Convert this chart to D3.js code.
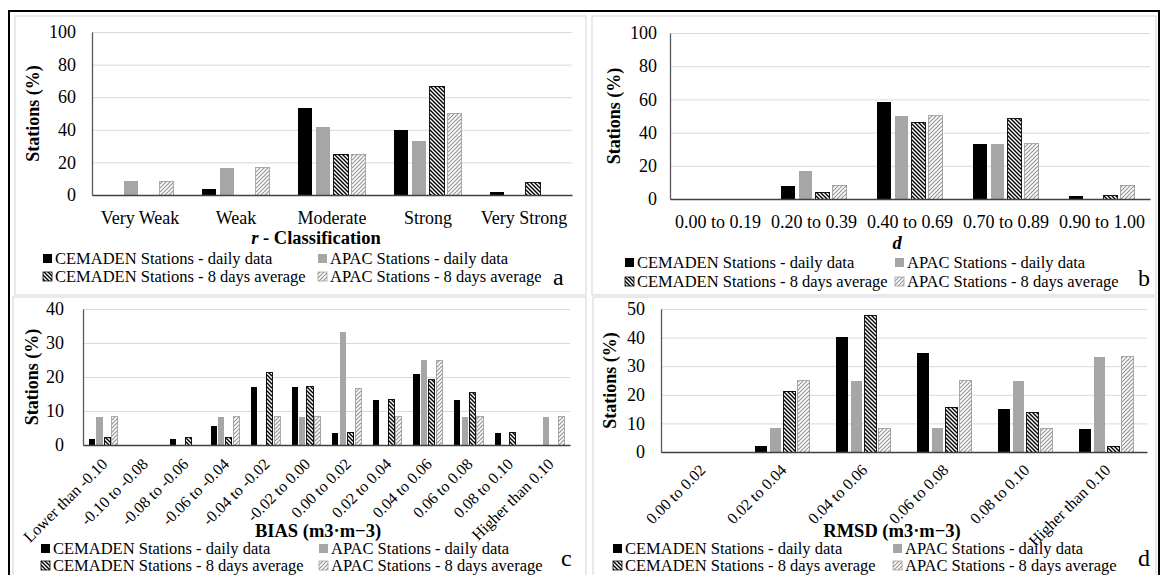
<!DOCTYPE html>
<html><head><meta charset="utf-8">
<script src="https://cdn.jsdelivr.net/npm/d3@7"></script>
<style>
html,body{margin:0;padding:0;background:#fff;}
svg text{font-family:"Liberation Serif","Times New Roman","DejaVu Serif",serif;fill:#000;}
</style></head>
<body><svg id="chart" width="1163" height="575"></svg>
<script>
// ---------- DATA ----------
const seriesNames = ["CEMADEN Stations - daily data","APAC Stations - daily data","CEMADEN Stations - 8 days average","APAC Stations - 8 days average"];

const rCats = ["Very Weak","Weak","Moderate","Strong","Very Strong"];
const rCemDaily = [0, 3.4, 53.4, 39.7, 1.7];
const rApacDaily = [8.3, 16.7, 41.7, 33.3, 0];
const rCem8d = [0, 0, 25, 66.7, 7.5];
const rApac8d = [8.3, 16.7, 25, 50, 0];
const rTicks = [0, 20, 40, 60, 80, 100];

const dCats = ["0.00 to 0.19","0.20 to 0.39","0.40 to 0.69","0.70 to 0.89","0.90 to 1.00"];
const dCemDaily = [0, 7.8, 58.2, 33.4, 1.8];
const dApacDaily = [0, 16.7, 50, 33.3, 0];
const dCem8d = [0, 4.2, 46.3, 48.3, 2.1];
const dApac8d = [0, 8.3, 50.4, 33.3, 8.3];
const dTicks = [0, 20, 40, 60, 80, 100];

const biasCats = ["Lower than -0.10","-0.10 to -0.08","-0.08 to -0.06","-0.06 to -0.04","-0.04 to -0.02","-0.02 to 0.00","0.00 to 0.02","0.02 to 0.04","0.04 to 0.06","0.06 to 0.08","0.08 to 0.10","Higher than 0.10"];
const biasCemDaily = [1.7, 0, 1.7, 5.5, 17.2, 17.2, 3.6, 13.3, 21.0, 13.3, 3.6, 0];
const biasApacDaily = [8.3, 0, 0, 8.3, 0, 8.3, 33.3, 0, 25, 8.3, 0, 8.3];
const biasCem8d = [2.1, 0, 2.1, 2.1, 21.3, 17.2, 3.8, 13.5, 19.2, 15.4, 3.8, 0];
const biasApac8d = [8.3, 0, 0, 8.3, 8.3, 8.3, 16.7, 8.3, 25, 8.3, 0, 8.3];
const biasTicks = [0, 10, 20, 30, 40];

const rmsdCats = ["0.00 to 0.02","0.02 to 0.04","0.04 to 0.06","0.06 to 0.08","0.08 to 0.10","Higher than 0.10"];
const rmsdCemDaily = [0, 2.1, 40.2, 34.5, 15.2, 7.9];
const rmsdApacDaily = [0, 8.3, 25, 8.3, 25, 33.3];
const rmsdCem8d = [0, 21.2, 47.9, 15.6, 13.7, 2.0];
const rmsdApac8d = [0, 25, 8.3, 25, 8.3, 33.3];
const rmsdTicks = [0, 10, 20, 30, 40, 50];

// ---------- DRAW ----------
const FONT = '"Liberation Serif","Times New Roman","DejaVu Serif",serif';
const svg = d3.select("#chart");
const defs = svg.append("defs");
const pd = defs.append("pattern").attr("id","hatchDark").attr("patternUnits","userSpaceOnUse").attr("width",4).attr("height",4);
pd.append("rect").attr("width",4).attr("height",4).attr("fill","#fff");
pd.append("path").attr("d","M-1,-1L5,5M3,-1L5,1M-1,3L1,5").attr("stroke","#000").attr("stroke-width",1.4);
const pl = defs.append("pattern").attr("id","hatchLight").attr("patternUnits","userSpaceOnUse").attr("width",4).attr("height",4);
pl.append("rect").attr("width",4).attr("height",4).attr("fill","#fff");
pl.append("path").attr("d","M-1,5L5,-1M-1,1L1,-1M3,5L5,3").attr("stroke","#959595").attr("stroke-width",1.2);

const fills = ["#000","#a6a6a6","url(#hatchDark)","url(#hatchLight)"];
const strokes = ["none","none","#000","#a0a0a0"];

// panel frames
const frames = [[15,16,586,295],[592,16,1156,295],[13,297,586,580],[593,297,1156,580]];
frames.forEach(f=>svg.append("rect").attr("x",f[0]).attr("y",f[1]).attr("width",f[2]-f[0]).attr("height",f[3]-f[1]).attr("fill","none").attr("stroke","#d4d4d4").attr("stroke-width",1));
svg.append("rect").attr("x",9).attr("y",11).attr("width",1150).attr("height",600).attr("fill","none").attr("stroke","#000").attr("stroke-width",2);

function panel(o){
  const g = svg.append("g").attr("font-family",FONT);
  const x0 = d3.scaleBand().domain(o.cats).range([o.x1, o.x2]).padding(0);
  const x1 = d3.scaleBand().domain(d3.range(4)).range([0, x0.bandwidth()]).paddingInner(o.pi).paddingOuter(o.po);
  const y = d3.scaleLinear().domain([0, o.ymax]).range([o.y0, o.yTop]);
  // grid
  g.append("g").attr("transform",`translate(${o.x1},0)`)
    .call(d3.axisLeft(y).tickValues(o.ticks.filter(t=>t>0)).tickSize(-(o.x2-o.x1)).tickFormat(""))
    .call(s=>{s.select(".domain").remove(); s.selectAll("line").attr("stroke","#d9d9d9");});
  // y axis
  g.append("g").attr("transform",`translate(${o.x1},0)`)
    .call(d3.axisLeft(y).tickValues(o.ticks).tickSize(0).tickSizeOuter(0).tickPadding(o.tpad))
    .call(s=>{s.attr("font-family",FONT); s.select(".domain").attr("stroke","#595959").attr("stroke-width",1.3);
      s.selectAll("text").attr("font-size","18px").attr("font-family",FONT).attr("fill","#000");});
  // bars
  const series = [o.s0,o.s1,o.s2,o.s3];
  series.forEach((vals,si)=>{
    g.append("g").selectAll("rect").data(vals).join("rect")
      .attr("x",(d,i)=>x0(o.cats[i])+x1(si))
      .attr("width",x1.bandwidth())
      .attr("y",d=>y(d))
      .attr("height",d=>y(0)-y(d))
      .attr("fill",fills[si])
      .attr("stroke",d=>d>0?strokes[si]:"none")
      .attr("stroke-width",0.9)
      .attr("shape-rendering","crispEdges");
  });
  // x axis
  const xa = g.append("g").attr("transform",`translate(0,${o.y0})`)
    .call(d3.axisBottom(x0).tickSize(0).tickSizeOuter(0));
  xa.attr("font-family",FONT);
  xa.select(".domain").attr("stroke","#404040").attr("stroke-width",1.3);
  xa.selectAll("text").attr("font-family",FONT).attr("fill","#000");
  if(o.rotate){
    xa.selectAll("text").attr("font-size","16px").attr("text-anchor","end").attr("dy",null).attr("x",0).attr("y",0)
      .attr("transform",`translate(${o.rdx},${o.rdy}) rotate(-45)`);
  } else {
    xa.selectAll("text").attr("font-size","18px").attr("dy",null).attr("y",o.lab);
  }
  // axis title x
  const tt = g.append("text").attr("x",o.titleX).attr("y",o.titleY).attr("text-anchor","middle")
    .attr("font-size","18.5px").attr("font-weight","bold");
  o.title.forEach(p=>tt.append("tspan").attr("font-style",p[1]?"italic":"normal").text(p[0]));
  // y title
  g.append("text").attr("transform",`translate(${o.ytX},${(o.y0+o.yTop)/2}) rotate(-90)`)
    .attr("text-anchor","middle").attr("font-size","18px").attr("font-weight","bold").text("Stations (%)");
  // legend
  const pos = [[o.lc1,o.lr1],[o.lc2,o.lr1],[o.lc1,o.lr2],[o.lc2,o.lr2]];
  seriesNames.forEach((nm,i)=>{
    const [lx,ly]=pos[i];
    g.append("rect").attr("x",lx).attr("y",ly-10).attr("width",9).attr("height",9)
      .attr("fill",fills[i]).attr("stroke",strokes[i]).attr("stroke-width",0.8);
    g.append("text").attr("x",lx+12).attr("y",ly).attr("font-size","16.5px").text(nm);
  });
  g.append("text").attr("x",o.letX).attr("y",o.letY).attr("font-size","24px").text(o.letter);
}

panel({cats:rCats,s0:rCemDaily,s1:rApacDaily,s2:rCem8d,s3:rApac8d,ticks:rTicks,ymax:100,
  x1:92,x2:572,y0:195,yTop:32,pi:0.2,po:0.8,tpad:16,lab:29,
  title:[["r",true],[" - Classification",false]],titleX:316,titleY:244,ytX:39,
  lc1:43,lc2:318,lr1:264,lr2:282,letter:"a",letX:553,letY:285});
panel({cats:dCats,s0:dCemDaily,s1:dApacDaily,s2:dCem8d,s3:dApac8d,ticks:dTicks,ymax:100,
  x1:670,x2:1150,y0:199,yTop:33,pi:0.2,po:0.9,tpad:13,lab:29,
  title:[["d",true]],titleX:897,titleY:249,ytX:620,
  lc1:625,lc2:895,lr1:268,lr2:287,letter:"b",letX:1138,letY:286});
panel({cats:biasCats,s0:biasCemDaily,s1:biasApacDaily,s2:biasCem8d,s3:biasApac8d,ticks:biasTicks,ymax:40,
  x1:83,x2:570,y0:445,yTop:309,pi:0.2,po:0.76,tpad:19,rotate:true,rdx:5,rdy:20,
  title:[["BIAS (m3·m−3)",false]],titleX:318,titleY:537,ytX:38,
  lc1:41,lc2:319,lr1:554,lr2:571,letter:"c",letX:561,letY:566});
panel({cats:rmsdCats,s0:rmsdCemDaily,s1:rmsdApacDaily,s2:rmsdCem8d,s3:rmsdApac8d,ticks:rmsdTicks,ymax:50,
  x1:661,x2:1147,y0:452,yTop:309,pi:0.15,po:0.96,tpad:16,rotate:true,rdx:5,rdy:19,
  title:[["RMSD (m3·m−3)",false]],titleX:892,titleY:537,ytX:616,
  lc1:613,lc2:893,lr1:554,lr2:571,letter:"d",letX:1138,letY:566});
</script></body></html>
